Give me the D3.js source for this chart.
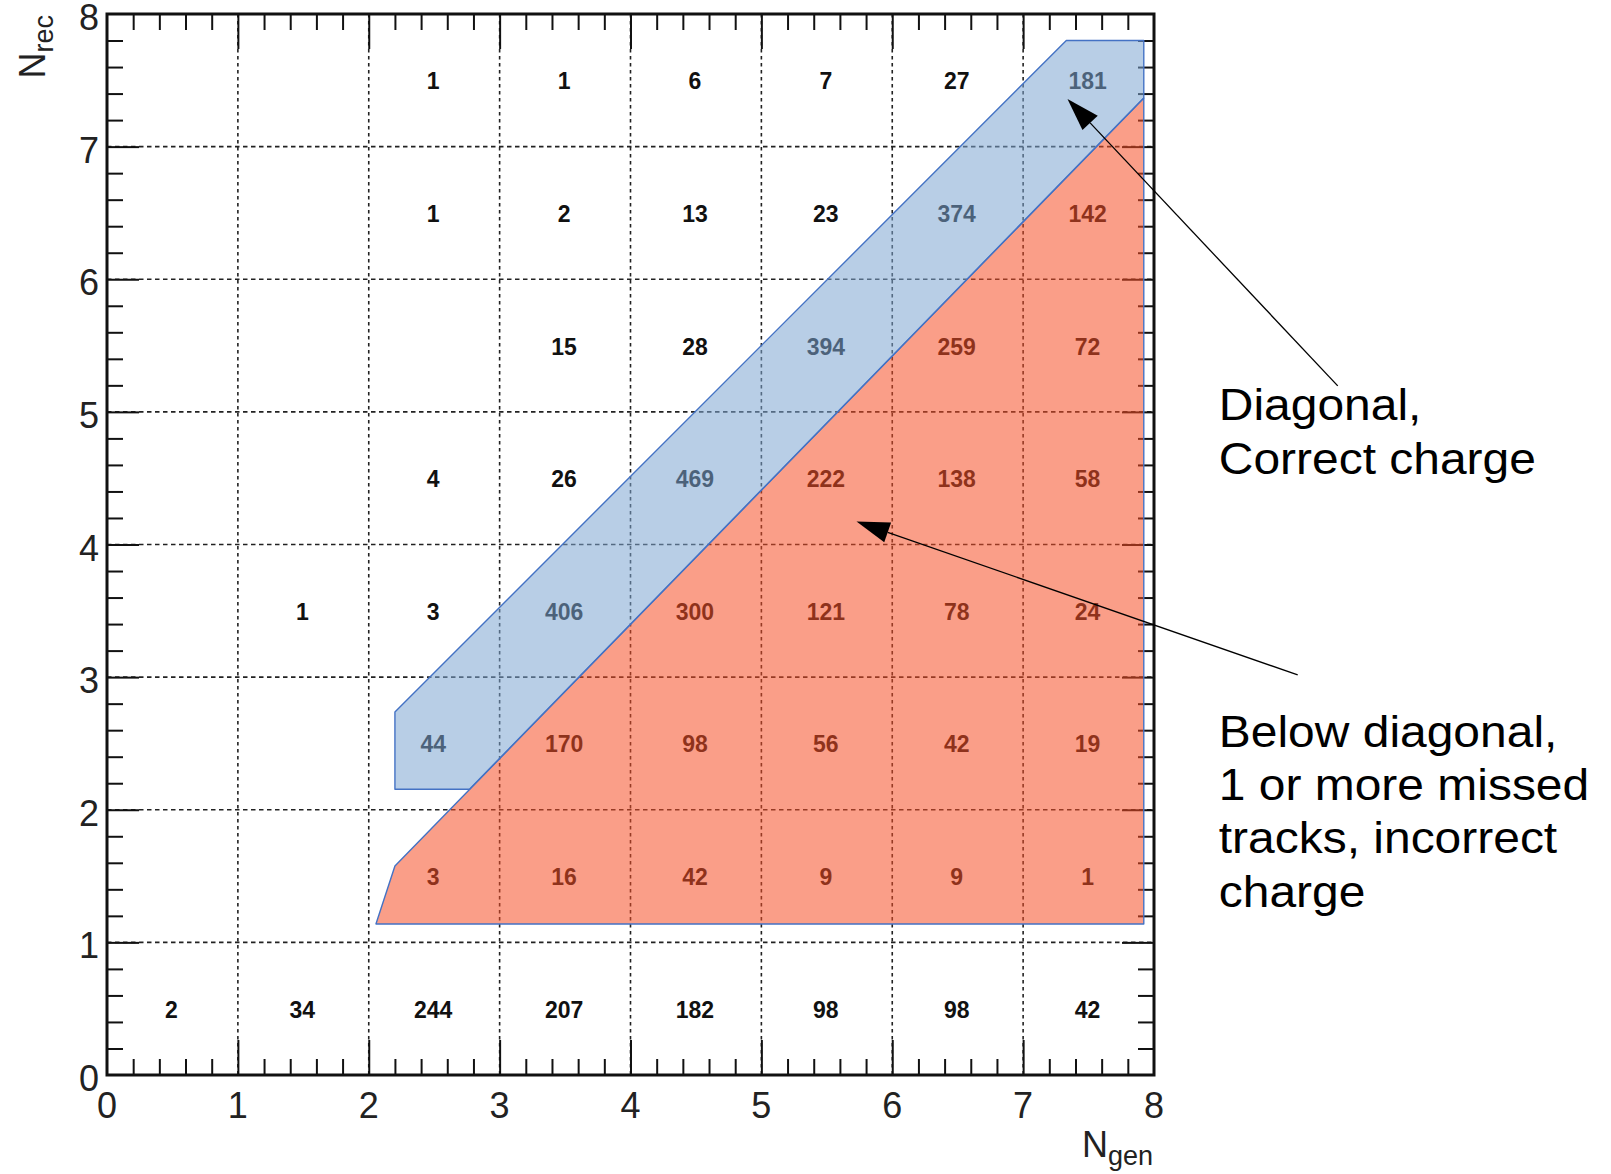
<!DOCTYPE html>
<html><head><meta charset="utf-8">
<script src="https://cdn.jsdelivr.net/npm/d3@7"></script>
<style>body{margin:0;background:#fff;overflow:hidden}</style>
</head><body><svg id="c" width="1611" height="1174"></svg>
<script>
// ---- data ----
const ngenBins = [0,1,2,3,4,5,6,7];
const nrecBins = [0,1,2,3,4,5,6,7];
const nrec0 = [2,34,244,207,182,98,98,42];
const nrec1 = [null,null,3,16,42,9,9,1];
const nrec2 = [null,null,44,170,98,56,42,19];
const nrec3 = [null,1,3,406,300,121,78,24];
const nrec4 = [null,null,4,26,469,222,138,58];
const nrec5 = [null,null,null,15,28,394,259,72];
const nrec6 = [null,null,1,2,13,23,374,142];
const nrec7 = [null,null,1,1,6,7,27,181];
const xTickLabels = ["0","1","2","3","4","5","6","7","8"];
const yTickLabels = ["0","1","2","3","4","5","6","7","8"];
const diagonalRegion = [[2.20,2.737],[2.20,2.155],[2.77,2.155],[7.922,7.366],[7.922,7.80],[7.33,7.80]];
const belowRegion = [[2.055,1.139],[7.922,1.139],[7.922,7.366],[2.20,1.576]];
const arrowDiagonal = [[9.404,5.196],[7.339,7.360]];
const arrowBelow = [[9.098,3.017],[5.727,4.173]];
const labelDiagonal = ["Diagonal,","Correct charge"];
const labelBelow = ["Below diagonal,","1 or more missed","tracks, incorrect","charge"];
const labelDiagonalPos = [8.495,4.936];
const labelBelowPos = [8.495,2.476];

// ---- layout ----
const svg = d3.select("#c");
const L=107, R=1154, T=14, B=1075;
const x = d3.scaleLinear().domain([0,8]).range([L,R]);
const y = d3.scaleLinear().domain([0,8]).range([B,T]);
const font = "'Liberation Sans', Arial, Helvetica, sans-serif";

const rows = [nrec0,nrec1,nrec2,nrec3,nrec4,nrec5,nrec6,nrec7];
const cells = [];
rows.forEach((r,j)=>r.forEach((v,i)=>{ if(v!=null) cells.push({gx:ngenBins[i], ry:nrecBins[j], v}); }));

// grid
const gridVals = d3.range(1,8);
svg.append("g").selectAll("line.gv").data(gridVals).join("line")
  .attr("x1",d=>x(d)).attr("x2",d=>x(d)).attr("y1",T).attr("y2",B)
  .attr("stroke","#222").attr("stroke-width",1.6).attr("stroke-dasharray","3.5,3.5");
svg.append("g").selectAll("line.gh").data(gridVals).join("line")
  .attr("y1",d=>y(d)).attr("y2",d=>y(d)).attr("x1",L).attr("x2",R)
  .attr("stroke","#222").attr("stroke-width",1.6).attr("stroke-dasharray","4.5,3.5");

// ticks
const minor = d3.range(0,40).map(k=>k/5).filter(v=>Math.abs(v-Math.round(v))>1e-6);
const major = d3.range(1,8);
function ticks(axisFn, vals, size, tr){
  svg.append("g").attr("transform",tr)
    .call(axisFn.tickValues(vals).tickSize(size).tickSizeOuter(0).tickFormat(""))
    .call(g=>g.select(".domain").remove())
    .call(g=>g.selectAll("line").attr("stroke","#111").attr("stroke-width",2));
}
ticks(d3.axisBottom(x), minor, -16, `translate(0,${B})`);
ticks(d3.axisBottom(x), major, -35, `translate(0,${B})`);
ticks(d3.axisTop(x), minor, -16, `translate(0,${T})`);
ticks(d3.axisTop(x), major, -35, `translate(0,${T})`);
ticks(d3.axisLeft(y), minor, -16, `translate(${L},0)`);
ticks(d3.axisLeft(y), major, -32, `translate(${L},0)`);
ticks(d3.axisRight(y), minor, -16, `translate(${R},0)`);
ticks(d3.axisRight(y), major, -32, `translate(${R},0)`);

// frame
svg.append("rect").attr("x",L).attr("y",T).attr("width",R-L).attr("height",B-T)
  .attr("fill","none").attr("stroke","#111").attr("stroke-width",3);

// tick labels
svg.append("g").selectAll("text").data(xTickLabels).join("text")
  .attr("x",(d,i)=>x(i)).attr("y",B+43).attr("text-anchor","middle")
  .attr("font-family",font).attr("font-size",36).attr("fill","#222").text(d=>d);
svg.append("g").selectAll("text").data(yTickLabels).join("text")
  .attr("x",L-8).attr("y",(d,i)=>y(i)+16).attr("text-anchor","end")
  .attr("font-family",font).attr("font-size",36).attr("fill","#222").text(d=>d);

// axis titles
const xt = svg.append("text").attr("x",R-1).attr("y",1157).attr("text-anchor","end")
  .attr("font-family",font).attr("font-size",36).attr("fill","#222");
xt.append("tspan").text("N");
xt.append("tspan").attr("font-size",27).attr("dy",8).text("gen");
const yt = svg.append("text").attr("transform",`translate(45,${T+1}) rotate(-90)`).attr("text-anchor","end")
  .attr("font-family",font).attr("font-size",36).attr("fill","#222");
yt.append("tspan").text("N");
yt.append("tspan").attr("font-size",27).attr("dy",8).text("rec");

// cell contents
svg.append("g").selectAll("text").data(cells).join("text")
  .attr("x",d=>x(d.gx+0.5)-1).attr("y",d=>y(d.ry+0.5)+9)
  .attr("text-anchor","middle").attr("font-family",font).attr("font-weight","bold")
  .attr("font-size",23).attr("fill","#111").text(d=>d.v);

// overlay regions
const line = d3.line().x(d=>x(d[0])).y(d=>y(d[1]));
svg.append("path").attr("d",line(belowRegion)+"Z")
  .attr("fill","rgb(245,78,38)").attr("fill-opacity",0.55)
  .attr("stroke","#4472C4").attr("stroke-width",1.4).attr("stroke-linejoin","round");
svg.append("path").attr("d",line(diagonalRegion)+"Z")
  .attr("fill","rgb(126,166,210)").attr("fill-opacity",0.55)
  .attr("stroke","#4472C4").attr("stroke-width",1.4).attr("stroke-linejoin","round");

// arrows
function arrow(a){
  const [t0,t1]=a; const x0=x(t0[0]), y0=y(t0[1]), x1=x(t1[0]), y1=y(t1[1]);
  const dx=x0-x1, dy=y0-y1, len=Math.hypot(dx,dy), ux=dx/len, uy=dy/len;
  const hl=33, hw=10.5, bx=x1+ux*hl, by=y1+uy*hl;
  svg.append("line").attr("x1",x0).attr("y1",y0).attr("x2",bx).attr("y2",by)
    .attr("stroke","#000").attr("stroke-width",1.3);
  svg.append("path").attr("d",`M${x1},${y1}L${bx-uy*hw},${by+ux*hw}L${bx+uy*hw},${by-ux*hw}Z`).attr("fill","#000");
}
arrow(arrowDiagonal); arrow(arrowBelow);

// annotation texts
function label(lines,pos){
  const g = svg.append("g").attr("transform",`translate(${x(pos[0])},${y(pos[1])}) scale(1.09,1)`);
  g.selectAll("text").data(lines).join("text").attr("x",0).attr("y",(d,i)=>i*53.3)
    .attr("font-family",font).attr("font-size",44).attr("fill","#000").text(d=>d);
}
label(labelDiagonal,labelDiagonalPos);
label(labelBelow,labelBelowPos);
</script></body></html>
